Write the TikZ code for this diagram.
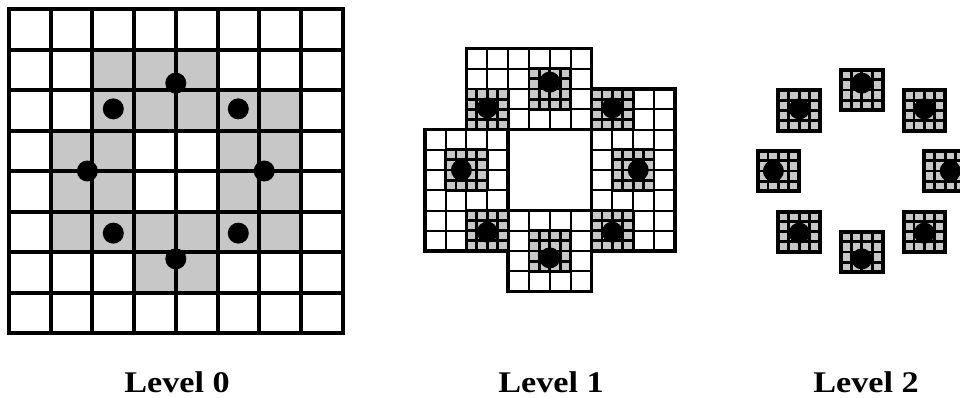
\documentclass[tikz,border=0pt]{standalone}
\usepackage{fontspec}
\newfontfamily\levelfont{Liberation Serif}
\usetikzlibrary{positioning,calc}
\definecolor{cellgray}{gray}{0.78}
\tikzstyle{thickgrid} = [line width=4pt, black, line cap=rect]
\tikzstyle{subgrid} = [line width=2pt, black]
\tikzstyle{microgrid} = [line width=2.8pt, black]
\tikzstyle{outline} = [line width=3.6pt, black, line join=miter]
\tikzstyle{blockline} = [line width=4pt, black, line join=miter]
\tikzstyle{marked} = [fill=cellgray]
\tikzstyle{sample} = [fill=black]
\tikzstyle{caption} = [font=\levelfont\bfseries\fontsize{30}{30}\selectfont, inner sep=0pt]
\newcommand{\wide}[1]{\scalebox{1.14}[1]{#1}}

\begin{document}
\begin{tikzpicture}[x=41.7pt, y=-40.5pt]
\useasboundingbox (-9pt,9pt) rectangle (951pt,-388pt);
\clip (-9pt,9pt) rectangle (951pt,-388pt);

% LEVEL 0 - graue Zellen
\foreach \cx/\cy in {2/1,3/1,4/1, 2/2,3/2,4/2,5/2,6/2, 1/3,2/3,5/3,6/3, 1/4,2/4,5/4,6/4, 1/5,2/5,3/5,4/5,5/5,6/5, 3/6,4/6}
  \fill [marked] (\cx,\cy) rectangle ++(1,1);

% LEVEL 0 - Gitter
\foreach \k in {0,...,8} {
  \draw [thickgrid] (\k,0) -- (\k,8);
  \draw [thickgrid] (0,\k) -- (8,\k);
}

% LEVEL 0 - Punkte
\foreach \a in {0,45,...,315}
  \fill [sample] ({4+2.12*cos(\a)},{4+2.17*sin(\a)}) circle (10.5pt);

\node (lvl0) [caption] at (4.03,9.21) {\wide{Level 0}};

% LEVEL 1
\begin{scope}[xshift=374pt, yshift=1pt]
  % Unterteilung der grauen Zellen
  \foreach \cx/\cy in {2/1,3/1,4/1, 2/2,3/2,4/2,5/2,6/2, 1/3,2/3,5/3,6/3, 1/4,2/4,5/4,6/4, 1/5,2/5,3/5,4/5,5/5,6/5, 3/6,4/6}
    \foreach \i in {0,0.5}
      \foreach \j in {0,0.5}
        \draw [subgrid] (\cx+\i,\cy+\j) rectangle ++(0.5,0.5);

  % feine Bloecke um die Punkte
  \foreach \bx/\by in {3.5/1.5, 2/2, 5/2, 1.5/3.5, 5.5/3.5, 2/5, 5/5, 3.5/5.5} {
    \fill [marked] (\bx,\by) rectangle ++(1,1);
    \foreach \m in {0,...,4} {
      \draw [microgrid] (\bx+\m/4,\by) -- ++(0,1);
      \draw [microgrid] (\bx,\by+\m/4) -- ++(1,0);
    }
  }

  % Umriss
  \draw [outline] (2,1) -- (5,1) -- (5,2) -- (7,2) -- (7,6) -- (5,6) -- (5,7) -- (3,7)
    -- (3,6) -- (1,6) -- (1,3) -- (2,3) -- cycle;
  \draw [outline] (3,3) rectangle (5,5);

  \foreach \a in {0,45,...,315}
    \fill [sample] ({4+2.12*cos(\a)},{4+2.17*sin(\a)}) circle (10.5pt);

  \node (lvl1) [caption] at (4.03,9.235) {\wide{Level 1}};
\end{scope}

% LEVEL 2
\begin{scope}[xshift=686pt]
  \foreach \bx/\by in {3.5/1.5, 2/2, 5/2, 1.5/3.5, 5.5/3.5, 2/5, 5/5, 3.5/5.5} {
    \fill [marked] (\bx,\by) rectangle ++(1,1);
    \foreach \m in {1,...,3} {
      \draw [microgrid] (\bx+\m/4,\by) -- ++(0,1);
      \draw [microgrid] (\bx,\by+\m/4) -- ++(1,0);
    }
    \draw [blockline] (\bx,\by) rectangle ++(1,1);
  }

  \foreach \a in {0,45,...,315}
    \fill [sample] ({4+2.12*cos(\a)},{4+2.17*sin(\a)}) circle (10.5pt);

  \node (lvl2) [caption] at (4.1,9.21) {\wide{Level 2}};
\end{scope}

\end{tikzpicture}
\end{document}
